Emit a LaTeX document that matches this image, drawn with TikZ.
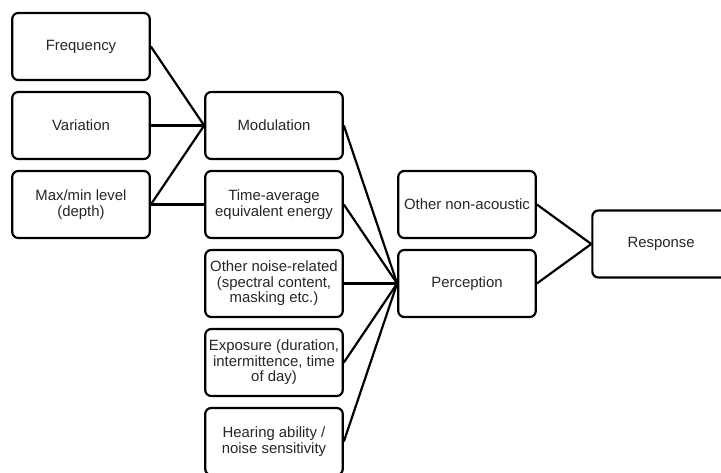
\documentclass[tikz,border=0pt]{standalone}
\usepackage{fontspec}
\setmainfont{Liberation Sans}
\usetikzlibrary{positioning,calc}

\begin{document}
\begin{tikzpicture}[x=1pt,y=-1pt,line width=2.2pt,node distance=9.8pt and 53.3pt,
                    box/.style={draw,rounded corners=6pt,minimum width=137.5pt,minimum height=67pt,
                    align=center,inner sep=2pt,text=black!85,font=\fontsize{14.9}{15.5}\selectfont}]
  \useasboundingbox (0,0) rectangle (721,473);
  \clip (0,0) rectangle (721,473);

  \node[box] (freq) at (81,46.5) {Frequency};
  \node[box] (var) [below=of freq] {Variation};
  \node[box] (depth) [below=of var] {Max/min level\\(depth)};

  \node[box] (mod) [right=of var] {Modulation};
  \node[box] (energy) [below=of mod] {Time-average\\equivalent energy};
  \node[box] (noise) [below=of energy] {Other noise-related\\(spectral content,\\masking etc.)};
  \node[box] (expo) [below=of noise] {Exposure (duration,\\intermittence, time\\of day)};
  \node[box] (hear) [below=of expo] {Hearing ability /\\noise sensitivity};

  \node[box] (nonac) [right=of energy] {Other non-acoustic};
  \node[box] (perc) [right=of noise] {Perception};
  \coordinate (gap) at ($(nonac.south east)!0.5!(perc.north east)$);
  \node[box] (resp) [right=54.4pt of gap] {Response};

  \path
    (freq.east) edge (mod.west)
    (var.east) edge (mod.west)
    (depth.east) edge (mod.west)
                 edge (energy.west)
    (mod.east) edge (perc.west)
    (energy.east) edge (perc.west)
    (noise.east) edge (perc.west)
    (expo.east) edge (perc.west)
    (hear.east) edge (perc.west)
    (nonac.east) edge (resp.west)
    (perc.east) edge (resp.west);
\end{tikzpicture}
\end{document}
